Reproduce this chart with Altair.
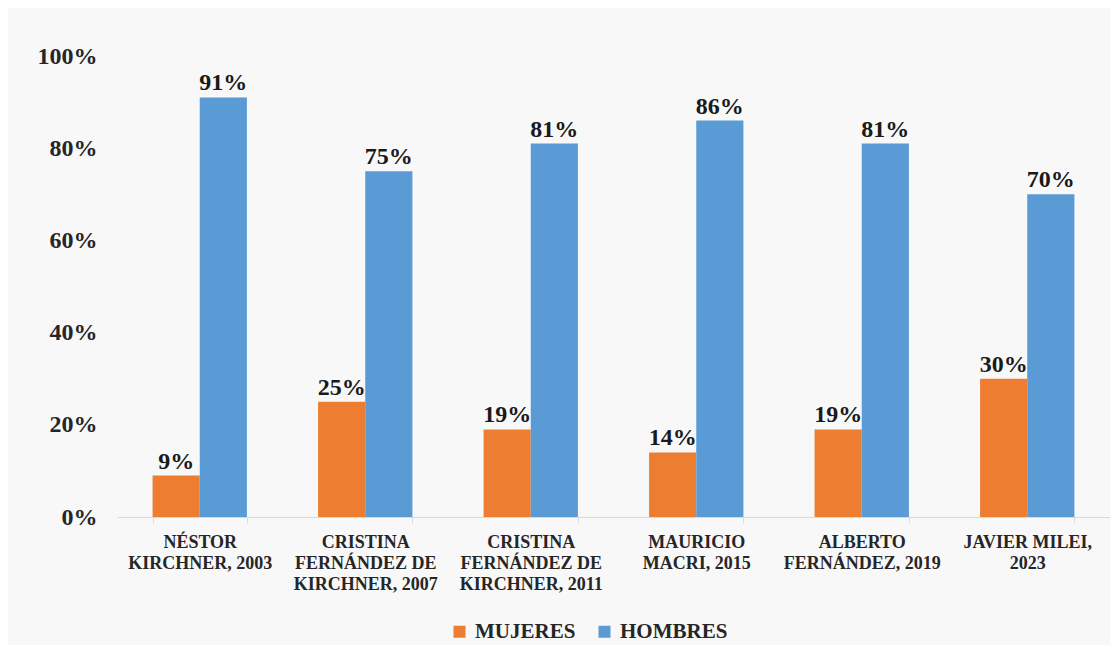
import altair as alt
import pandas as pd

cat_lines = [
    ["NÉSTOR", "KIRCHNER, 2003"],
    ["CRISTINA", "FERNÁNDEZ DE", "KIRCHNER, 2007"],
    ["CRISTINA", "FERNÁNDEZ DE", "KIRCHNER, 2011"],
    ["MAURICIO", "MACRI, 2015"],
    ["ALBERTO", "FERNÁNDEZ, 2019"],
    ["JAVIER MILEI,", "2023"],
]
categories = ["|".join(l) for l in cat_lines]
series = ["MUJERES", "HOMBRES"]
mujeres = [9, 25, 19, 14, 19, 30]
hombres = [91, 75, 81, 86, 81, 70]
colors = ["#ED7D31", "#5B9BD5"]

rows = []
for c, m, h in zip(categories, mujeres, hombres):
    rows.append({"cat": c, "serie": "MUJERES", "v": m})
    rows.append({"cat": c, "serie": "HOMBRES", "v": h})
df = pd.DataFrame(rows)

FONT = "'Times New Roman', 'Liberation Serif', Times, serif"
TXT = "#262626"

x = alt.X(
    "cat:N",
    sort=categories,
    title=None,
    scale=alt.Scale(paddingInner=0.43, paddingOuter=0.215),
    axis=alt.Axis(
        labelExpr="split(datum.label, '|')",
        labelAngle=0,
        labelFont=FONT,
        labelFontWeight="bold",
        labelFontSize=18,
        labelColor=TXT,
        labelLineHeight=21,
        labelPadding=10,
        labelBaseline="top",
        tickBand="extent",
        ticks=True,
        tickSize=6,
        tickColor="#dcdcdc",
        domainColor="#d9d9d9",
        labelLimit=300,
    ),
)
y = alt.Y(
    "v:Q",
    title=None,
    scale=alt.Scale(domain=[0, 100]),
    axis=alt.Axis(
        values=[0, 20, 40, 60, 80, 100],
        labelExpr="datum.value + '%'",
        labelFont=FONT,
        labelFontWeight="bold",
        labelFontSize=24,
        labelColor=TXT,
        labelPadding=20,
        ticks=False,
        domain=False,
        grid=False,
    ),
)
xoff = alt.XOffset("serie:N", sort=series)
color = alt.Color(
    "serie:N",
    sort=series,
    scale=alt.Scale(domain=series, range=colors),
    legend=alt.Legend(
        title=None,
        orient="none",
        direction="horizontal",
        legendX=332,
        legendY=565,
        symbolType="square",
        symbolSize=144,
        symbolStrokeWidth=0,
        labelFont=FONT,
        labelFontWeight="bold",
        labelFontSize=21,
        labelColor=TXT,
        labelOffset=5,
        columnPadding=18,
    ),
)

bars = alt.Chart(df).mark_bar().encode(x=x, y=y, xOffset=xoff, color=color)
labels = (
    alt.Chart(df)
    .transform_calculate(lbl="datum.v + '%'")
    .mark_text(font=FONT, fontWeight="bold", fontSize=24, color="#1a1a1a",
               baseline="alphabetic", dy=-7)
    .encode(x=x, y=y, xOffset=xoff, text="lbl:N")
)

chart = (
    alt.layer(bars, labels)
    .properties(
        width=993,
        height=461,
        autosize=alt.AutoSizeParams(type="none"),
        padding={"left": 109, "top": 48, "right": 0, "bottom": 128},
        background="#f8f8f9",
    )
    .configure_view(stroke=None)
)

chart.save("out.html", embed_options={"renderer": "svg", "actions": False})
